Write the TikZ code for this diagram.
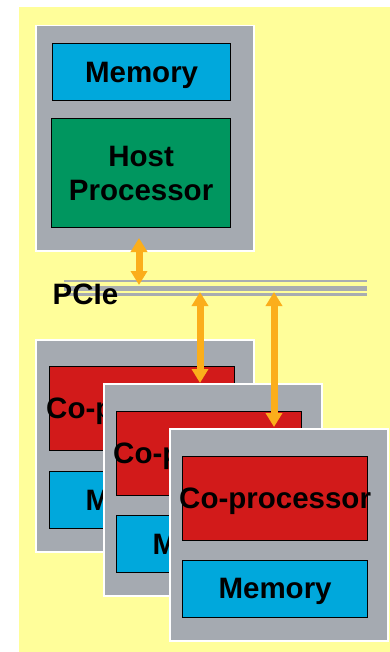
\documentclass[tikz,border=0pt]{standalone}
\usepackage{fontspec}
\setmainfont{Liberation Sans}
\usetikzlibrary{arrows.meta}
\definecolor{bgyellow}{HTML}{FFFE9A}
\definecolor{boxgray}{HTML}{A5AAB1}
\definecolor{memblue}{HTML}{00A8DC}
\definecolor{hostgreen}{HTML}{00965F}
\definecolor{cored}{HTML}{D21A1A}
\definecolor{arrorange}{HTML}{FBAE1B}
\definecolor{busgray}{HTML}{A8ACB0}
\newcommand{\overfull}[1]{\makebox[0pt][c]{#1}}
\begin{document}
\begin{tikzpicture}[x=1pt,y=-1pt,
  card/.style={fill=boxgray,draw=white,line width=1.5pt,anchor=north west,inner sep=0pt,minimum width=218pt},
  unitbox/.style={draw=black,line width=1.2pt,anchor=north west,inner sep=0pt,text depth=0pt,
    font=\fontsize{29.5}{34}\selectfont\bfseries,align=center,text=black},
  memunit/.style={unitbox,fill=memblue,minimum height=57pt},
  cpunit/.style={unitbox,fill=cored,minimum width=185pt,minimum height=84pt},
  link/.style={draw=arrorange,line width=7pt,{Triangle[width=16pt,length=14pt]}-{Triangle[width=16pt,length=14pt]}},
  busline/.style={draw=busgray}]
\useasboundingbox (0,0) rectangle (390,652);
\fill[white] (0,0) rectangle (390,652);
\fill[bgyellow] (19,7) rectangle (390,652);

% host card
\node[card,minimum height=225pt] (host) at (35,25) {};
\node[memunit,minimum width=178pt] (hostmem) at (52,43) {Memory};
\node[unitbox,fill=hostgreen,minimum width=179pt,minimum height=109pt] (hostcpu) at (51,118) {Host\\Processor};

% PCIe bus
\coordinate (busL1) at (64,281); \coordinate (busR1) at (367,281);
\coordinate (busL2) at (64,288); \coordinate (busR2) at (367,288);
\coordinate (busL3) at (64,294.5); \coordinate (busR3) at (367,294.5);
\draw[busline,line width=2.5pt] (busL1) -- (busR1);
\draw[busline,line width=5pt] (busL2) -- (busR2);
\draw[busline,line width=2.5pt] (busL3) -- (busR3);
\node[font=\fontsize{29.5}{34}\selectfont\bfseries,inner sep=0pt] (pcie) at (85.5,294) {PCIe};

% host link
\coordinate (hostlinktop) at (139,238);
\coordinate (hostlinkbus) at (139,285);
\draw[link] (hostlinktop) -- (hostlinkbus);

% co-processor card 1
\node[card,minimum height=212pt] (card1) at (35,339) {};
\node[cpunit] (cp1) at (49,366) {\overfull{Co-processor}};
\node[memunit,minimum width=185pt] (mem1) at (49,471) {Memory};

% co-processor card 2
\node[card,minimum height=212pt] (card2) at (103,383) {};
\node[cpunit] (cp2) at (116,411) {\overfull{Co-processor}};
\node[memunit,minimum width=185pt] (mem2) at (116,515) {Memory};

% links to co-processors
\coordinate (bus1) at (200,292);
\coordinate (bus2) at (274,292);
\draw[link] (bus1) -- (card2.north -| bus1);
\draw[link] (bus2) -- (274,427);

% co-processor card 3
\node[card,minimum height=212pt] (card3) at (169,428) {};
\node[cpunit] (cp3) at (182,455.5) {\overfull{Co-processor}};
\node[memunit,minimum width=185pt] (mem3) at (182,559.5) {Memory};
\end{tikzpicture}
\end{document}
